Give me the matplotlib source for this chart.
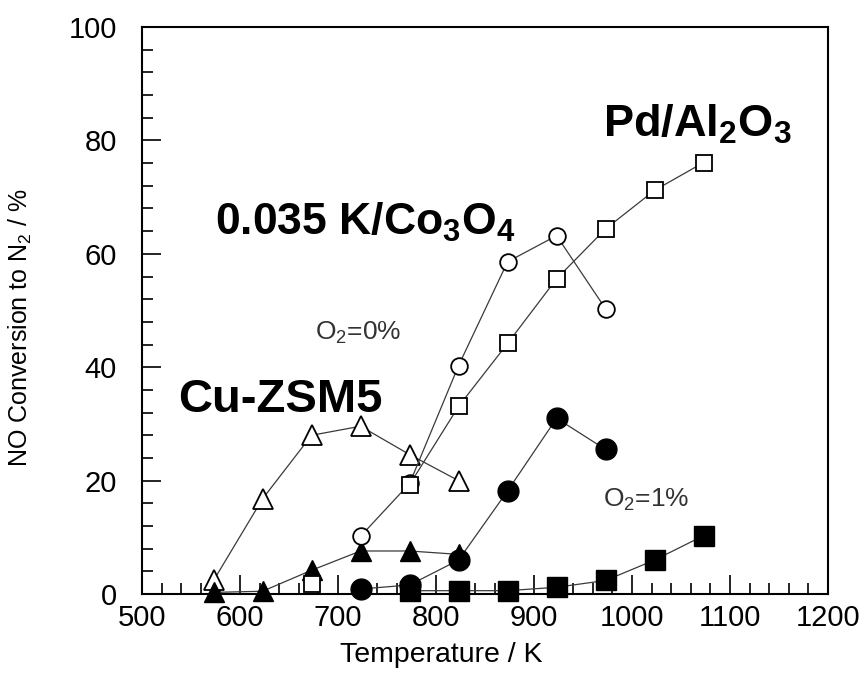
import matplotlib
matplotlib.use("Agg")
import matplotlib.pyplot as plt
from matplotlib.ticker import MultipleLocator

plt.rcParams['font.family'] = ['Liberation Sans', 'DejaVu Sans']
plt.rcParams['mathtext.default'] = 'regular'

# NO conversion to N2 (%) vs temperature (K), O2=0% (open) and O2=1% (filled)
temp_cu = [573, 623, 673, 723, 773, 823]
cu_o2_0 = [2.4, 16.8, 28.0, 29.6, 24.6, 20.0]
cu_o2_1 = [0.3, 0.5, 4.2, 7.6, 7.6, 7.0]

temp_co = [723, 773, 823, 873, 923, 973]
co_o2_0 = [10.2, 19.5, 40.3, 58.6, 63.2, 50.3]
co_o2_1 = [0.9, 1.6, 6.0, 18.2, 31.0, 25.5]

temp_pd = [773, 823, 873, 923, 973, 1023, 1073]
pd_o2_0 = [19.3, 33.1, 44.2, 55.6, 64.4, 71.2, 76.1]
pd_o2_1 = [0.6, 0.6, 0.6, 1.2, 2.4, 6.0, 10.3]
# lone low-temperature Pd point, not joined to the series
temp_pd_low = [673]
pd_o2_0_low = [1.8]

fig = plt.figure(figsize=(8.65, 6.92), dpi=100)
ax = fig.add_axes([0.1642, 0.1415, 0.7931, 0.8195])

line_kw = dict(color='#3a3a3a', lw=0.9, clip_on=False)
open_kw = dict(markerfacecolor='white', markeredgecolor='black', markeredgewidth=1.3)
fill_kw = dict(markerfacecolor='black', markeredgecolor='black', markeredgewidth=1.0)

ax.plot(temp_cu, cu_o2_0, marker='^', ms=14, **line_kw, **open_kw)
ax.plot(temp_cu, cu_o2_1, marker='^', ms=14, **line_kw, **fill_kw)
ax.plot(temp_co, co_o2_0, marker='o', ms=12, **line_kw, **open_kw)
ax.plot(temp_co, co_o2_1, marker='o', ms=15, **line_kw, **fill_kw)
ax.plot(temp_pd, pd_o2_0, marker='s', ms=11.5, **line_kw, **open_kw)
ax.plot(temp_pd_low, pd_o2_0_low, marker='s', ms=11.5, ls='none', clip_on=False, **open_kw)
ax.plot(temp_pd, pd_o2_1, marker='s', ms=14, **line_kw, **fill_kw)

ax.set_xlim(500, 1200)
ax.set_ylim(0, 100)
ax.xaxis.set_major_locator(MultipleLocator(100))
ax.xaxis.set_minor_locator(MultipleLocator(20))
ax.yaxis.set_major_locator(MultipleLocator(20))
ax.yaxis.set_minor_locator(MultipleLocator(4))

for s in ax.spines.values():
    s.set_linewidth(1.5)
ax.tick_params(which='both', direction='in', top=False, right=False, width=1.2)
ax.tick_params(which='major', length=14)
ax.tick_params(which='minor', length=8)
ax.tick_params(axis='x', which='major', labelsize=21, pad=7)
ax.tick_params(axis='y', which='major', labelsize=21, pad=18)

ax.set_xlabel('Temperature / K', fontsize=20.5)
ax.xaxis.set_label_coords(0.436, -0.084)
ax.set_ylabel('NO Conversion to N$_2$ / %', fontsize=18)
ax.yaxis.label.set_va('center')
ax.yaxis.set_label_coords(-0.178, 0.47)

def px(x, y):
    # figure pixel (from top-left) -> figure fraction
    return x / 865, 1 - y / 692

fig.text(*px(603, 137), 'Pd/Al$_2$O$_3$', fontsize=32.5, fontweight='bold', va='baseline')
fig.text(*px(215, 235), '0.035 K/Co$_3$O$_4$', fontsize=32, fontweight='bold', va='baseline')
fig.text(*px(178, 412), 'Cu-ZSM5', fontsize=34, fontweight='bold', va='baseline')
fig.text(*px(315, 340), 'O$_2$=0%', fontsize=19, color='#333333', va='baseline')
fig.text(*px(603, 507), 'O$_2$=1%', fontsize=19, color='#333333', va='baseline')

fig.savefig('out.png', dpi=100)
